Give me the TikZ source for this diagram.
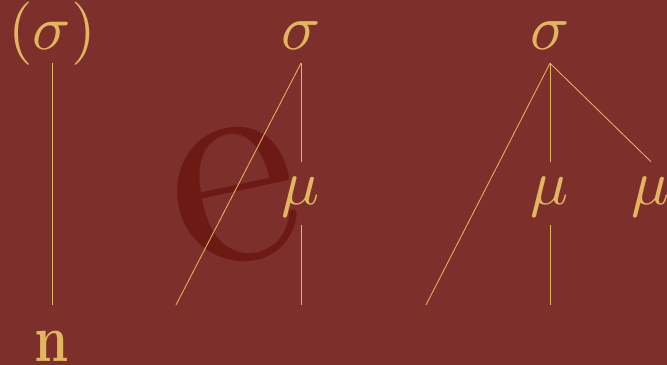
\documentclass[tikz,border=0pt]{standalone}
\usepackage{fix-cm}
\usepackage{graphicx}
\usepackage{tikz}
\definecolor{bgred}{RGB}{125, 47, 43}
\definecolor{gold}{RGB}{226, 182, 94}
\definecolor{shadered}{RGB}{110, 26, 20}
\newcommand{\magn}[2]{\scalebox{#1}{#2}}

\begin{document}
\begin{tikzpicture}[x=0.025cm, y=-0.025cm,
    lab/.style={gold, inner sep=0, font=\fontsize{10}{12}\selectfont, anchor=base},
    sig/.style={lab, text depth=9.2pt},
    mu/.style={lab, text height=30.6pt, text depth=14.2pt},
    link/.style={gold, line width=0.6pt}]
        \fill[bgred] (0,0) rectangle (667,365);
        \useasboundingbox (0,0) rectangle (667,365);

        % Watermark
        \node[shadered, inner sep=0, rotate=12, font=\fontsize{10}{12}\selectfont] (wm) at (235,196) {\magn{21}{e}};

        % Degenerate syllable
        \node[sig] (s1) at (52,50) {\magn{4.5}{$(\sigma)$}};
        \node[lab, text height=40.5pt] (n1) at (52,362) {\scalebox{3.8}[4.8]{\bfseries n}};
        \draw[link] (s1.south) -- (n1.north);

        % Light syllable
        \node[sig] (s2) at (301,50) {\magn{4.6}{$\sigma$}};
        \node[mu] (m2) at (301,205) {\magn{4.5}{$\mu$}};
        \coordinate (o2) at (176,305);
        \coordinate (c2) at (301,305);
        \draw[link] (s2.south) -- (o2);
        \draw[link] (s2.south) -- (m2.north);
        \draw[link] (m2.south) -- (c2);

        % Heavy syllable
        \node[sig] (s3) at (550,50) {\magn{4.6}{$\sigma$}};
        \node[mu] (m3) at (550,205) {\magn{4.5}{$\mu$}};
        \node[mu] (m4) at (651,205) {\magn{4.5}{$\mu$}};
        \coordinate (o3) at (426,305);
        \coordinate (c3) at (550,305);
        \draw[link] (s3.south) -- (o3);
        \draw[link] (s3.south) -- (m3.north);
        \draw[link] (s3.south) -- (m4.north);
        \draw[link] (m3.south) -- (c3);
      \end{tikzpicture}
\end{document}
